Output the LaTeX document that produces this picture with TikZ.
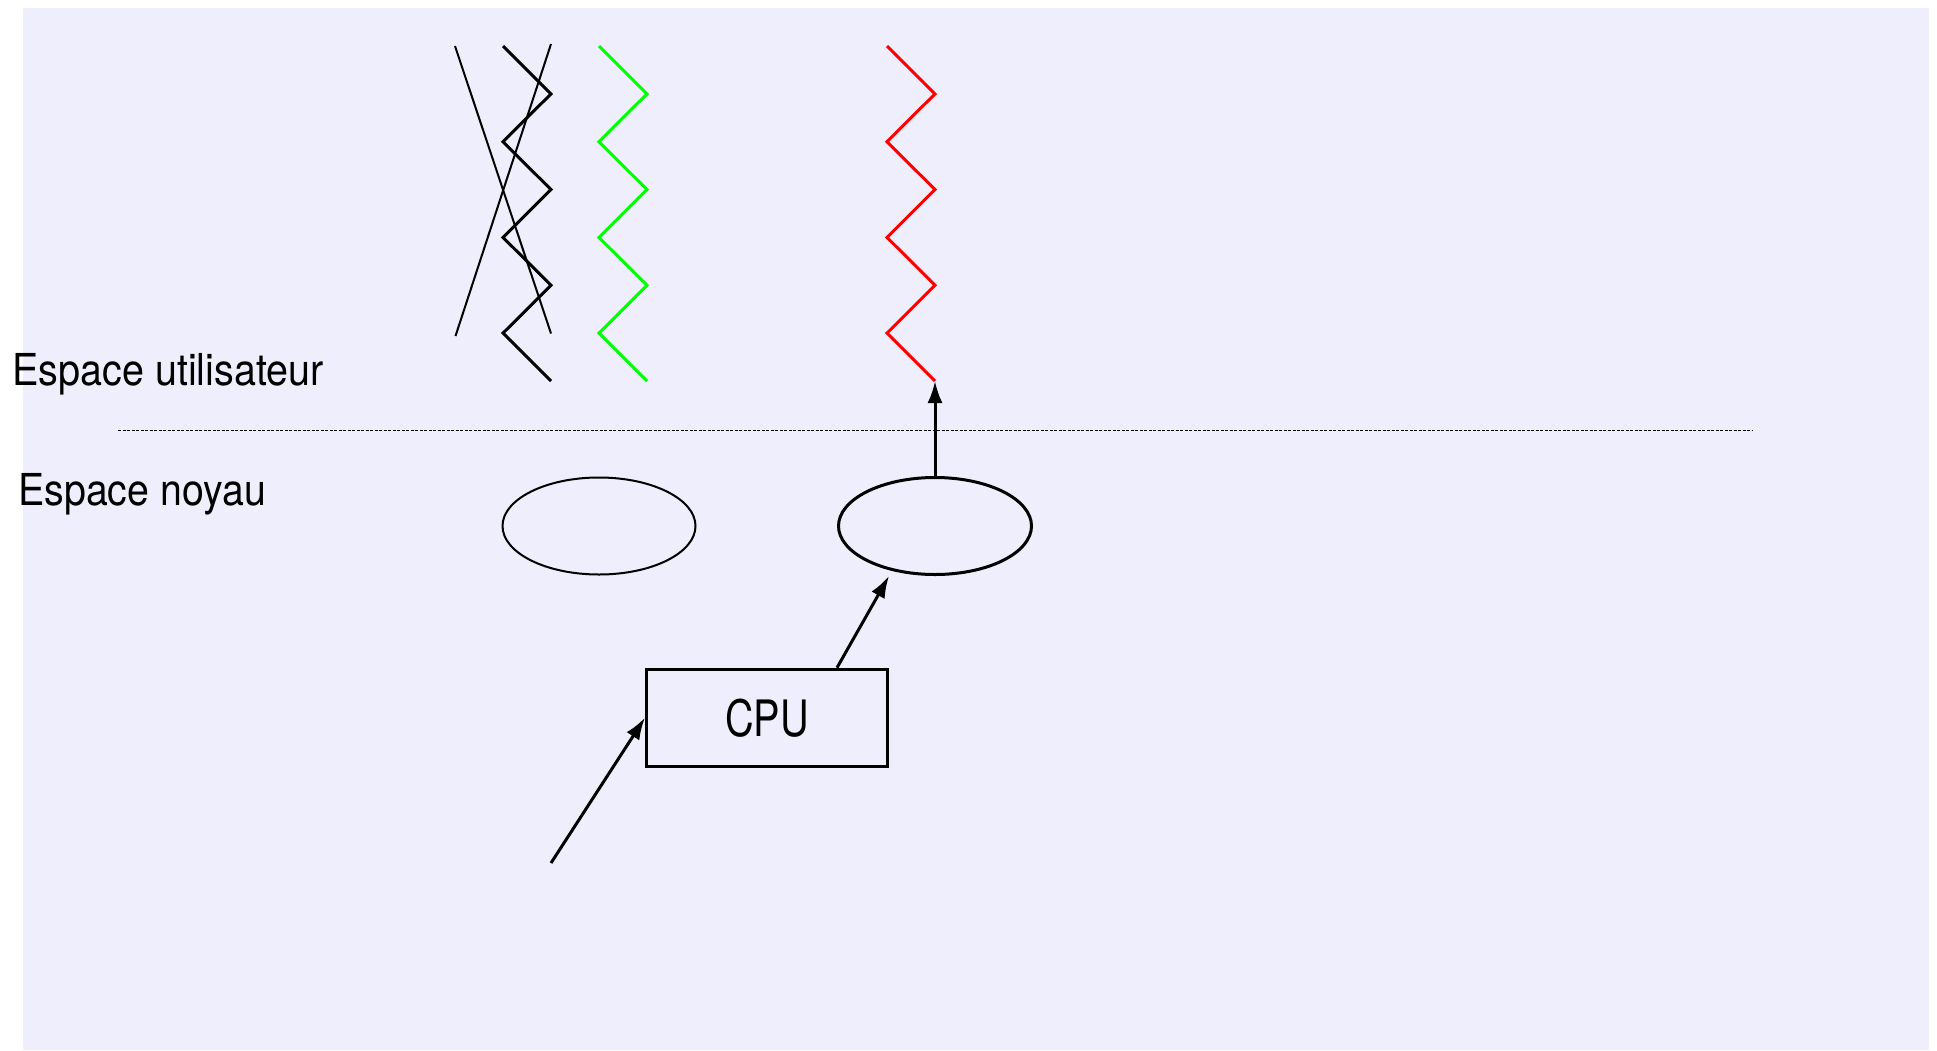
\documentclass[tikz,border=0pt]{standalone}
\usepackage{fontspec}
\setmainfont{TeX Gyre Heros}
\usetikzlibrary{shapes.geometric,arrows.meta}
\definecolor{bgcol}{RGB}{238,238,252}
\definecolor{zgreen}{RGB}{0,255,0}
\definecolor{zred}{RGB}{255,0,0}
\begin{document}
\begin{tikzpicture}[x=0.5pt,y=-0.5pt,
  zig/.style={line width=1.5pt,line join=miter},
  thinline/.style={line width=1pt},
  lbl/.style={anchor=base west,inner sep=0pt,font=\fontsize{22pt}{26pt}\selectfont},
  kbox/.style={draw,line width=1.5pt,minimum width=120.5pt,minimum height=48.5pt,inner sep=0pt,font=\fontsize{25.1pt}{30pt}\selectfont},
  kell/.style={draw,ellipse,minimum width=96.5pt,minimum height=48.5pt,inner sep=0pt},
  arr/.style={line width=1.5pt,-{Latex[length=11pt,width=7.5pt]}},
  sep/.style={line width=0.5pt,dash pattern=on 1.5pt off 0.75pt}
]
\useasboundingbox (0,0) rectangle (1937,1050);
\fill[bgcol] (23,7.5) rectangle (1929,1050);

% threads in user space
\draw[thinline] (455,46) -- (551,333.5);
\draw[thinline] (551,44) -- (455.5,336);
\draw[zig] (503,46) -- (551,93.9) -- (503,141.7) -- (551,189.6) -- (503,237.4) -- (551,285.3) -- (503,333.1) -- (551,381);
\draw[zig,zgreen] (599,46) -- (647,93.9) -- (599,141.7) -- (647,189.6) -- (599,237.4) -- (647,285.3) -- (599,333.1) -- (647,381);
\draw[zig,zred] (887,46) -- (935,93.9) -- (887,141.7) -- (935,189.6) -- (887,237.4) -- (935,285.3) -- (887,333.1) -- (935,381) coordinate (rz);

% separator
\coordinate (sepL) at (118,430);
\coordinate (sepR) at (1752,430);
\draw[sep] (sepL) -- (sepR);

% labels
\node[lbl] (lu) at (12,385) {\scalebox{0.898}[1]{Espace utilisateur}};
\node[lbl] (ln) at (18,505) {\scalebox{0.893}[1]{Espace noyau}};

% kernel
\node[kell,line width=1pt] (le) at (599,526) {};
\node[kell,line width=1.5pt] (re) at (935,526) {};
\node[kbox] (cpu) at (767,717.7) {\scalebox{0.79}[1]{CPU}};

% connectors
\coordinate (src) at (551,863);
\draw[arr] (re.north) -- (rz);
\draw[arr] ([xshift=35pt]cpu.north) -- ([xshift=-23pt]re.south);
\draw[arr] (src) -- (cpu.west);
\end{tikzpicture}
\end{document}
